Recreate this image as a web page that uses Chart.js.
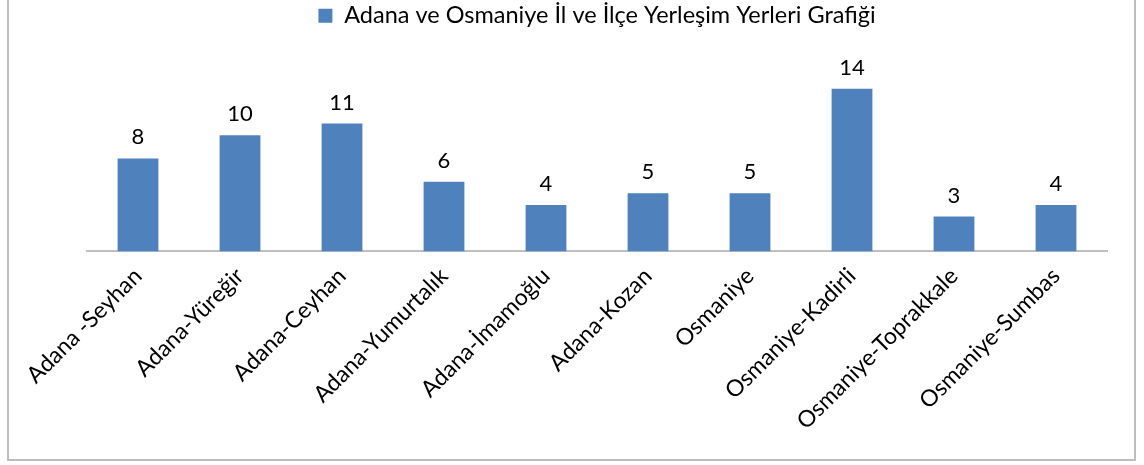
<!DOCTYPE html>
<html>
<head>
<meta charset="utf-8">
<script src="https://cdn.jsdelivr.net/npm/chart.js@4/dist/chart.umd.min.js"></script>
<style>
  html, body { margin: 0; padding: 0; background: #fff; }
  #wrap { position: relative; width: 1144px; height: 465px; overflow: hidden; }
  #frame { position: absolute; left: 7px; top: -2px; width: 1129px; height: 463px; border: 2px solid #bdbdbd; box-sizing: border-box; }
  canvas { position: absolute; left: 0; top: 0; }
</style>
</head>
<body>
<div id="wrap">
  <canvas id="chartContainer" width="1144" height="465"></canvas>
  <div id="frame"></div>
</div>
<script>
"use strict";

// 1: data
const places = ['Adana -Seyhan', 'Adana-Yüreğir', 'Adana-Ceyhan', 'Adana-Yumurtalık', 'Adana-İmamoğlu',
  'Adana-Kozan', 'Osmaniye', 'Osmaniye-Kadirli', 'Osmaniye-Toprakkale', 'Osmaniye-Sumbas'];
const counts = [8, 10, 11, 6, 4, 5, 5, 14, 3, 4];
const seriesName = 'Adana ve Osmaniye İl ve İlçe Yerleşim Yerleri Grafiği';

// 2: value labels above each bar
const valueLabels = {
  id: 'valueLabels',
  afterDatasetsDraw(chart) {
    const ctx = chart.ctx;
    ctx.save();
    ctx.font = '22px Lato';
    ctx.fillStyle = '#000';
    ctx.textAlign = 'center';
    ctx.textBaseline = 'alphabetic';
    chart.getDatasetMeta(0).data.forEach((bar, i) => {
      ctx.fillText(chart.data.datasets[0].data[i], bar.x, bar.y - 14);
    });
    ctx.restore();
  }
};

// extra room under the legend
const legendGap = {
  id: 'legendGap',
  beforeInit(chart) {
    const fit = chart.legend.fit;
    chart.legend.fit = function () {
      fit.bind(chart.legend)();
      this.height += 28;
    };
  }
};

// 3: create the chart
function appendChart() {
  let chartContainer = document.getElementById('chartContainer');
  new Chart(chartContainer, {
    type: 'bar',
    data: {
      labels: places,
      datasets: [{
        data: counts,
        label: seriesName,
        backgroundColor: '#4f81bd',
        categoryPercentage: 1,
        barPercentage: 0.4
      }]
    },
    options: {
      responsive: false,
      animation: false,
      layout: { padding: { left: 87, right: 37, top: 0, bottom: 27 } },
      plugins: {
        legend: {
          position: 'top',
          labels: {
            font: { family: 'Lato', size: 23.5 },
            color: '#000',
            boxWidth: 14,
            boxHeight: 14,
            padding: 4
          }
        },
        tooltip: { enabled: false }
      },
      scales: {
        x: {
          grid: { display: false },
          border: { display: true, color: '#bfbfbf', width: 2 },
          ticks: {
            minRotation: 45,
            maxRotation: 45,
            color: '#000',
            font: { family: 'Lato', size: 23 }
          }
        },
        y: {
          display: false,
          min: 0,
          max: 16
        }
      }
    },
    plugins: [valueLabels, legendGap]
  });
}

appendChart();
</script>
</body>
</html>
